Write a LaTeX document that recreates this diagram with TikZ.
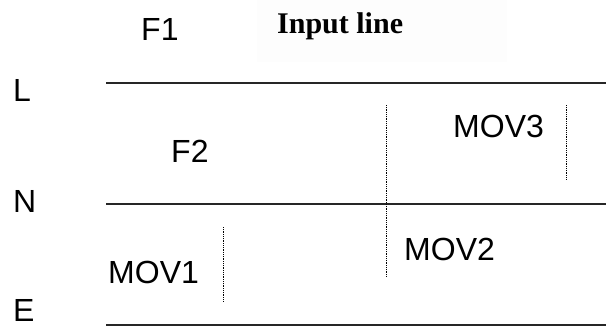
\documentclass[tikz,border=0pt]{standalone}
\usepackage{fontspec}
\setmainfont{Liberation Sans}
\newfontfamily\titlefont{Liberation Serif}
\begin{document}
\begin{tikzpicture}[x=1pt,y=-1pt,
  lbl/.style={inner sep=0pt,anchor=base west,font=\fontsize{32}{36}\selectfont},
  hline/.style={line width=2.2pt,black!85},
  dotline/.style={line width=0.9pt,black,dash pattern=on 0.9pt off 0.9pt}]
\useasboundingbox (0,0) rectangle (606,327);
\fill[white] (0,0) rectangle (606,327);
\fill[black!0.7] (257,0) rectangle (507,62);
% labels
\node[inner sep=0pt,anchor=base west,font=\titlefont\bfseries\fontsize{30}{34}\selectfont] (title) at (277,33) {Input line};
\node[lbl] (f1) at (141,40) {F1};
\node[lbl] (f2) at (171,162) {F2};
\node[lbl] (mov3) at (453,137) {MOV3};
\node[lbl] (mov1) at (108,283) {MOV1};
\node[lbl] (mov2) at (404,260) {MOV2};
\node[lbl] (L) at (13,101) {L};
\node[lbl] (N) at (13,212) {N};
\node[lbl] (E) at (13,321) {E};
% horizontal lines
\draw[hline] (106,83) -- (606,83);
\draw[hline] (106,204) -- (606,204);
\draw[hline] (106,325) -- (606,325);
% dotted vertical lines
\draw[dotline] (386,105) -- (386,277);
\draw[dotline] (566,105) -- (566,179);
\draw[dotline] (223,227) -- (223,301);
\end{tikzpicture}
\end{document}
